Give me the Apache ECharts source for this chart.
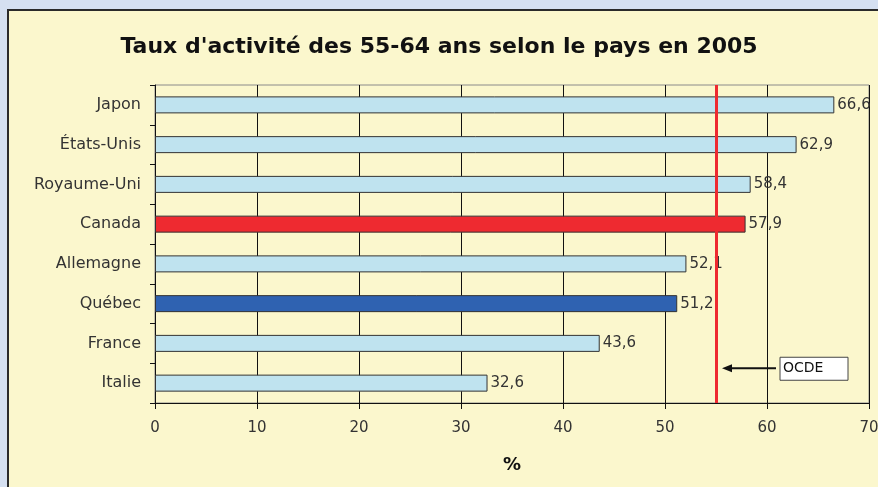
<!DOCTYPE html>
<html>
<head>
<meta charset="utf-8">
<script src="https://cdn.jsdelivr.net/npm/echarts@6/dist/echarts.min.js"></script>
<style>
  html, body { margin: 0; padding: 0; background: #d5e0f1; }
  #main { width: 878px; height: 487px; }
</style>
</head>
<body>
<div id="main"></div>
<script>
// données
const pays = ['Japon', 'États-Unis', 'Royaume-Uni', 'Canada', 'Allemagne', 'Québec', 'France', 'Italie']
const taux = [66.6, 62.9, 58.4, 57.9, 52.1, 51.2, 43.6, 32.6]
const ocde = 55
const xTicks = [0, 10, 20, 30, 40, 50, 60, 70]

// couleurs
const couleurBase = '#bfe3ef'
const couleurSpeciale = { 'Canada': '#ee2a30', 'Québec': '#2f62b1' }
const police = '"DejaVu Sans", Verdana, sans-serif'

const chart = echarts.init(document.getElementById('main'))

const option = {
  backgroundColor: '#d5e0f1',
  animation: false,
  textStyle: { fontFamily: police },
  title: {
    text: "Taux d'activité des 55-64 ans selon le pays en 2005",
    left: 'center',
    top: 31,
    textStyle: { fontSize: 22, fontWeight: 'bold', color: '#111', fontFamily: police }
  },
  graphic: [
    {
      type: 'rect', z: -10, silent: true,
      shape: { x: 8, y: 10, width: 900, height: 500 },
      style: { fill: '#fbf7cd', stroke: '#2a2a2a', lineWidth: 2 }
    }
  ],
  grid: {
    left: 155, right: 9, top: 85, bottom: 84,
    outerBoundsMode: 'none',
    containLabel: false,
    show: true, borderColor: '#8a8a8a', borderWidth: 1
  },
  xAxis: {
    type: 'value',
    min: xTicks[0], max: xTicks[xTicks.length - 1], interval: 10,
    name: '%',
    nameLocation: 'middle',
    nameGap: 53,
    nameTextStyle: { fontSize: 18, fontWeight: 'bold', color: '#111', fontFamily: police },
    axisLine: { show: true, lineStyle: { color: '#111', width: 1 } },
    axisTick: { show: true, length: 6, lineStyle: { color: '#111' } },
    axisLabel: { fontSize: 15, color: '#333', margin: 18 },
    splitLine: { show: true, lineStyle: { color: '#111', width: 1 } }
  },
  yAxis: {
    type: 'category',
    data: pays,
    inverse: true,
    axisLine: { show: true, lineStyle: { color: '#111', width: 1 } },
    axisTick: { show: true, length: 5, lineStyle: { color: '#111' } },
    axisLabel: { fontSize: 16, color: '#333', margin: 14 },
    splitLine: { show: false }
  },
  series: [
    {
      type: 'bar',
      barWidth: 17,
      data: taux.map((v, i) => ({
        value: v,
        itemStyle: { color: couleurSpeciale[pays[i]] || couleurBase }
      })),
      itemStyle: { borderColor: '#333', borderWidth: 1 },
      label: {
        show: true,
        position: 'right',
        distance: 3,
        fontSize: 15,
        color: '#333',
        formatter: p => String(p.value).replace('.', ',')
      },
      markLine: {
        silent: true,
        symbol: 'none',
        label: { show: false },
        lineStyle: { color: '#ee2a30', width: 3, type: 'solid' },
        data: [{ xAxis: ocde }]
      },
      z: 3
    }
  ]
}

chart.setOption(option)

// annotation OCDE (flèche + encadré), placée à partir des axes
const xLigne = chart.convertToPixel({ xAxisIndex: 0 }, ocde)
const yFrance = chart.convertToPixel({ yAxisIndex: 0 }, 'France')
const yItalie = chart.convertToPixel({ yAxisIndex: 0 }, 'Italie')
const yFleche = (yFrance + yItalie) / 2 + 5
chart.setOption({
  graphic: [
    option.graphic[0],
    {
      type: 'line', silent: true, z: 10,
      shape: { x1: xLigne + 60, y1: yFleche, x2: xLigne + 14, y2: yFleche },
      style: { stroke: '#111', lineWidth: 2 }
    },
    {
      type: 'polygon', silent: true, z: 10,
      shape: { points: [[xLigne + 6, yFleche], [xLigne + 16, yFleche - 4], [xLigne + 16, yFleche + 4]] },
      style: { fill: '#111' }
    },
    {
      type: 'rect', silent: true, z: 10,
      shape: { x: xLigne + 64, y: yFleche - 11, width: 68, height: 23 },
      style: { fill: '#ffffff', stroke: '#444', lineWidth: 1 }
    },
    {
      type: 'text', silent: true, z: 11,
      x: xLigne + 67, y: yFleche,
      style: { text: 'OCDE', fill: '#111', font: '14px ' + police, verticalAlign: 'middle' }
    }
  ]
})
</script>
</body>
</html>
